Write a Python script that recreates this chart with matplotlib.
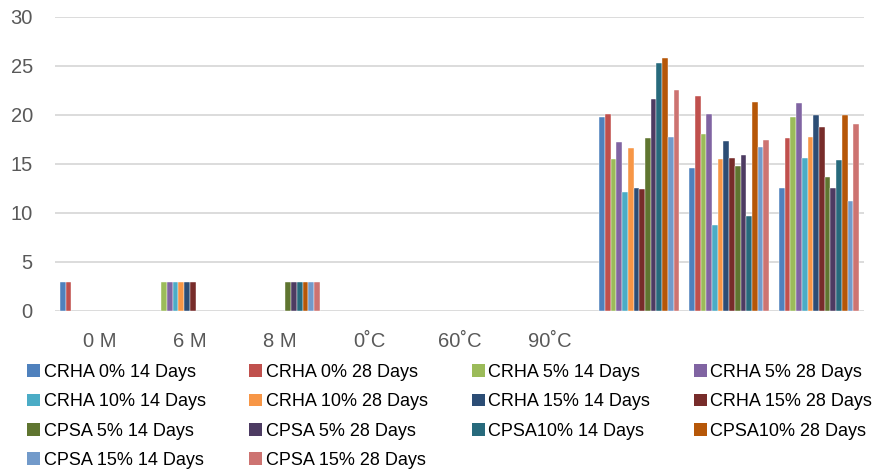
import numpy as np
import matplotlib
matplotlib.use("Agg")
import matplotlib.pyplot as plt
from matplotlib.patches import Patch

plt.rcParams['font.family'] = ['Liberation Sans', 'DejaVu Sans']

# categorias do eixo x (as três últimas sem rótulo)
categories = ['0 M', '6 M', '8 M', '0˚C', '60˚C', '90˚C', '', '', '']

series_names = [
    'CRHA 0% 14 Days', 'CRHA 0% 28 Days', 'CRHA 5% 14 Days', 'CRHA 5% 28 Days',
    'CRHA 10% 14 Days', 'CRHA 10% 28 Days', 'CRHA 15% 14 Days', 'CRHA 15% 28 Days',
    'CPSA 5% 14 Days', 'CPSA 5% 28 Days', 'CPSA10% 14 Days', 'CPSA10% 28 Days',
    'CPSA 15% 14 Days', 'CPSA 15% 28 Days',
]

# valores: um valor por categoria (0M, 6M, 8M, 0C, 60C, 90C, g7, g8, g9)
n = np.nan
crha0_14 = [3, n, n, n, n, n, 19.8, 14.6, 12.5]
crha0_28 = [3, n, n, n, n, n, 20.1, 21.9, 17.6]
crha5_14 = [n, 3, n, n, n, n, 15.5, 18.0, 19.8]
crha5_28 = [n, 3, n, n, n, n, 17.2, 20.1, 21.2]
crha10_14 = [n, 3, n, n, n, n, 12.1, 8.8, 15.6]
crha10_28 = [n, 3, n, n, n, n, 16.6, 15.5, 17.7]
crha15_14 = [n, 3, n, n, n, n, 12.5, 17.3, 20.0]
crha15_28 = [n, 3, n, n, n, n, 12.4, 15.6, 18.7]
cpsa5_14 = [n, n, 3, n, n, n, 17.6, 14.8, 13.7]
cpsa5_28 = [n, n, 3, n, n, n, 21.6, 15.9, 12.5]
cpsa10_14 = [n, n, 3, n, n, n, 25.3, 9.7, 15.4]
cpsa10_28 = [n, n, 3, n, n, n, 25.8, 21.3, 20.0]
cpsa15_14 = [n, n, 3, n, n, n, 17.7, 16.7, 11.2]
cpsa15_28 = [n, n, 3, n, n, n, 22.5, 17.4, 19.0]

all_series = [crha0_14, crha0_28, crha5_14, crha5_28, crha10_14, crha10_28,
              crha15_14, crha15_28, cpsa5_14, cpsa5_28, cpsa10_14, cpsa10_28,
              cpsa15_14, cpsa15_28]

colors = ['#4F81BD', '#C0504D', '#9BBB59', '#8064A2', '#4BACC6', '#F79646',
          '#2C4D75', '#772C2A', '#5F7530', '#4D3B62', '#276A7C', '#B65708',
          '#729ACA', '#CD7371']

fig = plt.figure(figsize=(8.76, 4.72), dpi=100)
ax = fig.add_axes([55 / 876, 1 - 311 / 472, (864 - 55) / 876, (311 - 16.5) / 472])

x = np.arange(len(categories))
group_w = 0.89
bar_w = group_w / len(all_series)
for i, (vals, c) in enumerate(zip(all_series, colors)):
    offs = -group_w / 2 + bar_w * (i + 0.5)
    ax.bar(x + offs, vals, width=bar_w, color=c, edgecolor='white', linewidth=0.3)

ax.set_xlim(-0.5, len(categories) - 0.5)
ax.set_ylim(0, 30)
ax.set_yticks(range(0, 31, 5))
ax.set_xticks(x)
ax.set_xticklabels(categories)
ax.yaxis.grid(True, color='#d9d9d9', linewidth=1.3)
ax.set_axisbelow(True)
for s in ax.spines.values():
    s.set_visible(False)
ax.tick_params(axis='both', length=0, labelsize=14.5, colors='#595959')
ax.tick_params(axis='y', pad=16)
ax.tick_params(axis='x', pad=15)

# legenda em 4 colunas, ordem por linha como no original
handles = [Patch(facecolor=c, edgecolor='none') for c in colors]
order = [0, 4, 8, 12, 1, 5, 9, 13, 2, 6, 10, 3, 7, 11]
fig.legend([handles[k] for k in order], [series_names[k] for k in order],
           ncol=4, loc='upper left', bbox_to_anchor=(27 / 876, 1 - 364 / 472),
           frameon=False, fontsize=13, borderpad=0, borderaxespad=0,
           handlelength=0.72, handleheight=0.72, handletextpad=0.2,
           columnspacing=2.42, labelspacing=0.68)

fig.savefig('out.png', dpi=100)
